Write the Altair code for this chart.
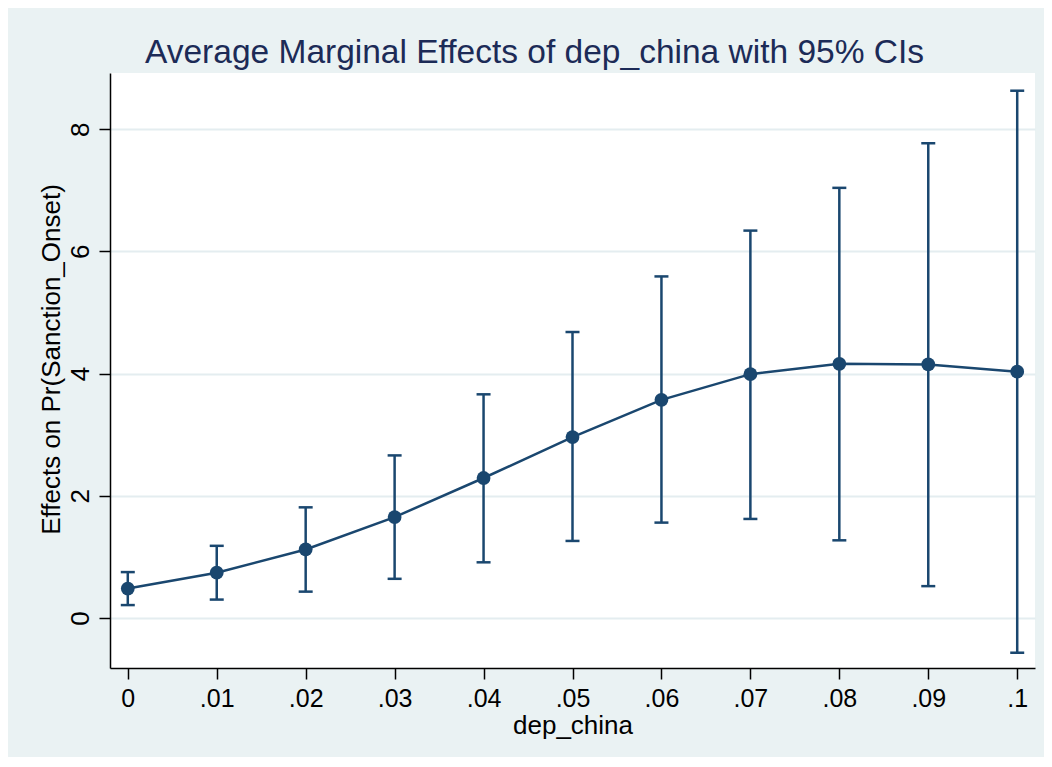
import altair as alt
import pandas as pd

# Data
dep_china = [0.0, 0.01, 0.02, 0.03, 0.04, 0.05, 0.06, 0.07, 0.08, 0.09, 0.10]
margin = [0.48, 0.74, 1.12, 1.65, 2.29, 2.96, 3.57, 3.99, 4.16, 4.15, 4.03]
upper = [0.75, 1.18, 1.81, 2.66, 3.66, 4.68, 5.59, 6.34, 7.04, 7.77, 8.63]
lower = [0.21, 0.30, 0.43, 0.64, 0.91, 1.26, 1.56, 1.62, 1.27, 0.52, -0.57]
x_ticks = [0.0, 0.01, 0.02, 0.03, 0.04, 0.05, 0.06, 0.07, 0.08, 0.09, 0.10]
y_ticks = [0, 2, 4, 6, 8]

df = pd.DataFrame({"x": dep_china, "m": margin, "hi": upper, "lo": lower})

NAVY = "#1A476F"
BG = "#EAF2F3"
FONT = "Liberation Sans"

xscale = alt.Scale(domain=[-0.002, 0.102], nice=False, zero=False)
yscale = alt.Scale(domain=[-0.82, 8.92], nice=False, zero=False)

xaxis = alt.Axis(
    values=x_ticks,
    labelExpr="datum.value == 0 ? '0' : replace(format(datum.value, '.2~f'), '0.', '.')",
    title="dep_china",
    grid=False,
    domainColor="black", domainWidth=1.5,
    tickColor="black", tickWidth=1.5, tickSize=11,
    labelFont=FONT, labelFontSize=25, labelColor="black",
    labelBaseline="alphabetic", labelPadding=27,
    titleFont=FONT, titleFontSize=26, titleFontWeight="normal", titleColor="black",
    titleBaseline="alphabetic", titleAlign="center", titleX=462.5, titleY=65.5,
)
yaxis = alt.Axis(
    values=y_ticks,
    format="d",
    title="Effects on Pr(Sanction_Onset)",
    grid=True, gridColor="#E4EDF0", gridWidth=2,
    domainColor="black", domainWidth=1.5,
    tickColor="black", tickWidth=1.5, tickSize=11,
    labelFont=FONT, labelFontSize=26, labelColor="black",
    labelAngle=270, labelAlign="center", labelBaseline="alphabetic", labelPadding=11,
    titleFont=FONT, titleFontSize=26, titleFontWeight="normal", titleColor="black",
    titleAngle=270, titleAlign="center", titleBaseline="alphabetic",
    titleX=-51, titleY=286,
)

base = alt.Chart(df)

SW = 2.5
bars = base.mark_rule(color=NAVY, strokeWidth=SW).encode(
    x=alt.X("x:Q", scale=xscale, axis=xaxis),
    y=alt.Y("lo:Q", scale=yscale, axis=yaxis),
    y2="hi:Q",
)
cap_hi = base.mark_rule(color=NAVY, strokeWidth=SW, xOffset=-7, x2Offset=7).encode(
    x="x:Q", x2="x:Q", y="hi:Q",
)
cap_lo = base.mark_rule(color=NAVY, strokeWidth=SW, xOffset=-7, x2Offset=7).encode(
    x="x:Q", x2="x:Q", y="lo:Q",
)
line = base.mark_line(color=NAVY, strokeWidth=SW).encode(x="x:Q", y="m:Q")
pts = base.mark_point(filled=True, color=NAVY, size=190, opacity=1, shape="circle").encode(
    x="x:Q", y="m:Q"
)

chart = (
    alt.layer(bars, cap_hi, cap_lo, line, pts)
    .properties(
        width=925,
        height=595,
        autosize=alt.AutoSizeParams(type="none"),
        padding={"left": 102, "top": 65, "right": 9, "bottom": 89},
        background=BG,
        title=alt.TitleParams(
            "Average Marginal Effects of dep_china with 95% CIs",
            font=FONT, fontSize=33.5, fontWeight="normal", color="#1C2B57",
            anchor="middle", frame="group", dx=-38, dy=34, offset=11, baseline="alphabetic",
        ),
    )
    .configure_view(fill="white", stroke=None)
)

chart.save("out.html", embed_options={"renderer": "svg", "actions": False})
